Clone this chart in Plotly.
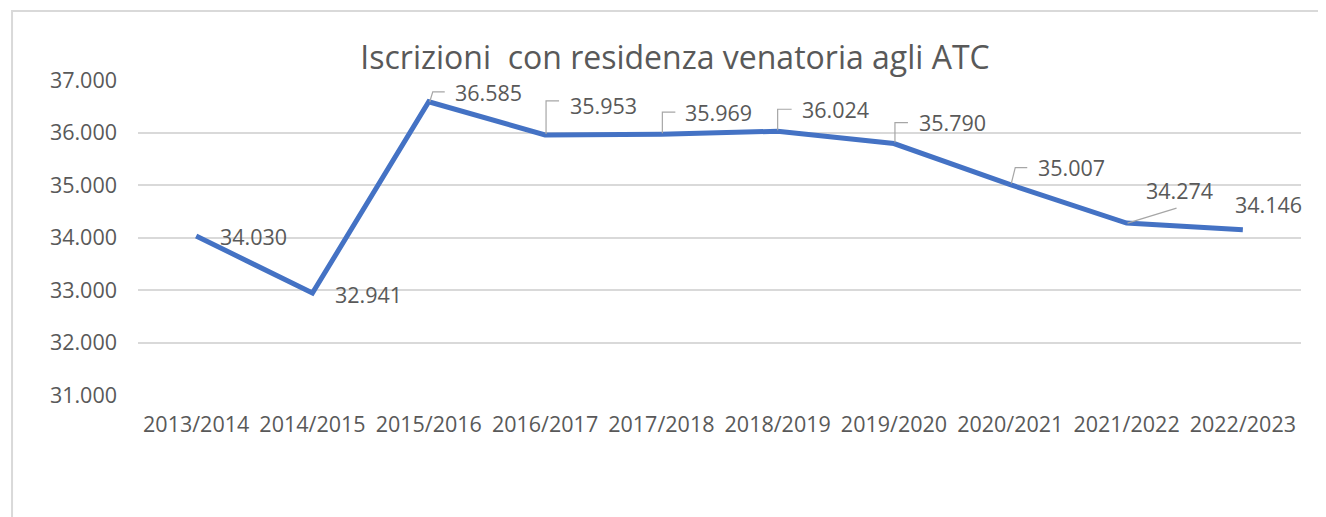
import plotly.graph_objects as go

categories = ["2013/2014", "2014/2015", "2015/2016", "2016/2017", "2017/2018",
              "2018/2019", "2019/2020", "2020/2021", "2021/2022", "2022/2023"]
values = [34030, 32941, 36585, 35953, 35969, 36024, 35790, 35007, 34274, 34146]
title_text = "Iscrizioni  con residenza venatoria agli ATC"

# label placement (pixels, relative to the point): left edge shift, vertical shift (up +)
label_xshift = [22, 21, 24, 23, 22, 22, 23, 26, 17, -10]
label_yshift = [-1, -1, 9, 29, 22, 22, 21, 17, 33, 25]
# leader line paths in pixels relative to the point (y up positive); None = no leader
leaders = [None, None,
           "M1,0 L4,10 L16,10",
           "M1,1 L1,34 L14,34",
           "M1,1 L1,22 L14,22",
           "M0,1 L0,22 L14,22",
           "M1,1 L1,21 L14,21",
           "M1,1 L5,17 L17,17",
           "M1,0 L50,15",
           None]

FONT = "Open Sans"
GREY = "#595959"
LINE = "#4472C4"

def fmt(v):
    return f"{v:,}".replace(",", ".")

fig = go.Figure()
fig.add_trace(go.Scatter(
    x=categories, y=values, mode="lines",
    line=dict(color=LINE, width=5), hoverinfo="x+y", showlegend=False,
))

annotations = []
for i, (c, v) in enumerate(zip(categories, values)):
    annotations.append(dict(
        x=c, y=v, xref="x", yref="y", text=fmt(v), showarrow=False,
        xanchor="left", yanchor="middle",
        xshift=label_xshift[i], yshift=label_yshift[i],
        font=dict(family=FONT, size=21.5, color=GREY),
    ))

shapes = []
for i, (c, v) in enumerate(zip(categories, values)):
    if leaders[i]:
        shapes.append(dict(
            type="path", xref="x", yref="y",
            xsizemode="pixel", ysizemode="pixel",
            xanchor=c, yanchor=v, path=leaders[i],
            line=dict(color="#a6a6a6", width=1.2),
        ))

# outer chart border (left and top visible)
shapes.append(dict(
    type="rect", xref="paper", yref="paper",
    x0=-0.1083, x1=1.08, y0=-0.5, y1=1.219,
    line=dict(color="#d9d9d9", width=2), fillcolor="rgba(0,0,0,0)", layer="below",
))

fig.update_layout(
    width=1326, height=517,
    margin=dict(l=130, r=33, t=72, b=130),
    paper_bgcolor="white", plot_bgcolor="white",
    separators=",.",
    title=dict(text=title_text, x=667 / 1326, xanchor="center",
               y=1 - 50 / 517, yanchor="middle", yref="container",
               font=dict(family=FONT, size=32, color=GREY)),
    annotations=annotations,
    shapes=shapes,
    xaxis=dict(type="category", range=[-0.5, 9.5], showgrid=False,
               showline=False, zeroline=False, ticks="",
               tickfont=dict(family=FONT, size=21.5, color=GREY),
               ticklabelstandoff=14),
    yaxis=dict(range=[31000, 37000], dtick=1000, tickformat=",.0f",
               showgrid=True, gridcolor="#d9d9d9", gridwidth=1.5,
               zeroline=False, showline=False, ticks="",
               tickfont=dict(family=FONT, size=21.5, color=GREY),
               ticklabelstandoff=20),
    font=dict(family=FONT, color=GREY),
)

fig.write_html("out.html")
